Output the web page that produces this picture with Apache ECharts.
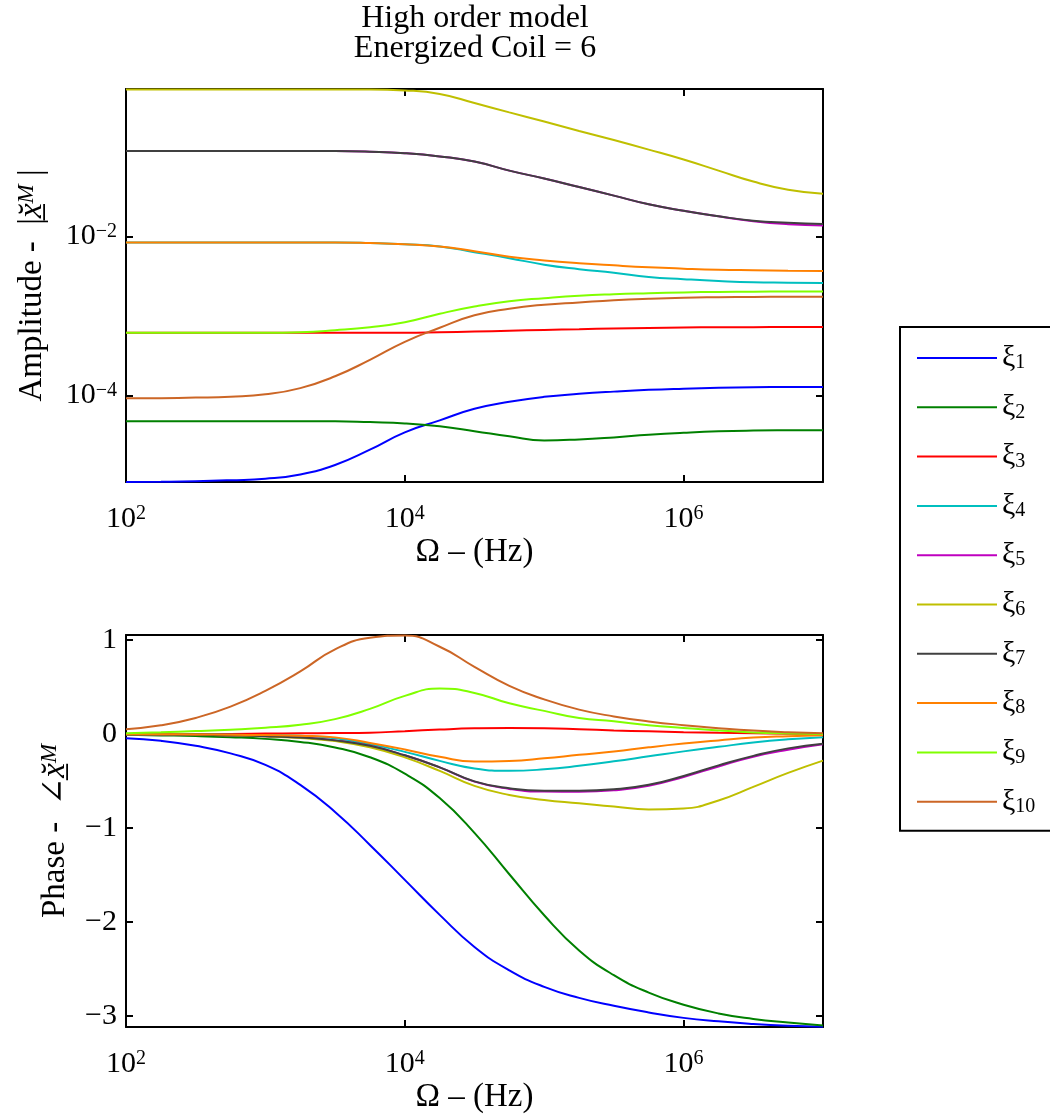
<!DOCTYPE html>
<html lang="en">
<head>
  <meta charset="UTF-8">
  <title>High order model</title>
  <script src="https://cdn.jsdelivr.net/npm/echarts@6/dist/echarts.min.js"></script>
  <style>
    * {
      margin: 0;
      padding: 0
    }

    html, body {
      width: 100%;
      height: 100%;
      background: #fff;
    }

    #main {
      width: 1050px;
      height: 1118px;
    }
  </style>
</head>
<body>
<div id="main"></div>
<script type="text/javascript">
  // frequency (Hz), sampled on a log grid
  var freq = [100, 178, 316, 562, 1000, 1780, 3160, 5620, 10000, 17800, 31600, 56200,
    100000, 178000, 316000, 562000, 1000000, 1780000, 3160000, 5620000, 10000000];

  // amplitude |x^M| per coil
  var amp1 = [8.21e-6, 8.26e-6, 8.38e-6, 8.63e-6, 9.0e-6, 1.02e-5, 1.343e-5, 2.09e-5, 3.45e-5, 4.88e-5, 6.81e-5,
    8.35e-5, 9.64e-5, 1.05e-4, 1.12e-4, 1.18e-4, 1.22e-4, 1.25e-4, 1.27e-4, 1.28e-4, 1.285e-4];
  var amp2 = [4.76e-5, 4.76e-5, 4.76e-5, 4.76e-5, 4.76e-5, 4.76e-5, 4.76e-5, 4.64e-5, 4.47e-5, 4.10e-5, 3.57e-5,
    3.07e-5, 2.73e-5, 2.81e-5, 2.98e-5, 3.21e-5, 3.40e-5, 3.55e-5, 3.63e-5, 3.66e-5, 3.67e-5];
  var amp3 = [6.15e-4, 6.15e-4, 6.15e-4, 6.15e-4, 6.15e-4, 6.15e-4, 6.15e-4, 6.15e-4, 6.15e-4, 6.24e-4, 6.37e-4,
    6.52e-4, 6.67e-4, 6.81e-4, 6.96e-4, 7.06e-4, 7.15e-4, 7.21e-4, 7.23e-4, 7.25e-4, 7.25e-4];
  var amp4 = [8.4e-3, 8.4e-3, 8.4e-3, 8.4e-3, 8.4e-3, 8.4e-3, 8.4e-3, 8.26e-3, 7.98e-3, 7.48e-3, 6.33e-3,
    5.32e-3, 4.41e-3, 3.87e-3, 3.49e-3, 3.09e-3, 2.90e-3, 2.75e-3, 2.65e-3, 2.62e-3, 2.59e-3];
  var amp5 = [0.118, 0.118, 0.118, 0.118, 0.118, 0.118, 0.118, 0.116, 0.111, 0.101, 0.0871,
    0.067, 0.0532, 0.0416, 0.0325, 0.0253, 0.021, 0.0179, 0.0155, 0.0142, 0.0137];
  var amp6 = [0.70, 0.70, 0.70, 0.70, 0.70, 0.70, 0.70, 0.70, 0.681, 0.615, 0.473,
    0.361, 0.277, 0.211, 0.162, 0.123, 0.0923, 0.067, 0.0488, 0.0386, 0.0344];
  var amp7 = [0.118, 0.118, 0.118, 0.118, 0.118, 0.118, 0.118, 0.116, 0.111, 0.101, 0.0871,
    0.067, 0.0532, 0.0416, 0.0325, 0.0253, 0.021, 0.0179, 0.0157, 0.0148, 0.0143];
  var amp8 = [8.4e-3, 8.4e-3, 8.4e-3, 8.4e-3, 8.4e-3, 8.4e-3, 8.4e-3, 8.26e-3, 7.98e-3, 7.48e-3, 6.51e-3,
    5.55e-3, 4.99e-3, 4.60e-3, 4.32e-3, 4.09e-3, 3.93e-3, 3.81e-3, 3.75e-3, 3.70e-3, 3.67e-3];
  var amp9 = [6.15e-4, 6.15e-4, 6.15e-4, 6.15e-4, 6.15e-4, 6.24e-4, 6.61e-4, 7.21e-4, 8.33e-4, 1.066e-3, 1.313e-3,
    1.531e-3, 1.671e-3, 1.795e-3, 1.875e-3, 1.93e-3, 1.977e-3, 2.004e-3, 2.015e-3, 2.026e-3, 2.03e-3];
  var amp10 = [9.22e-5, 9.27e-5, 9.42e-5, 9.69e-5, 1.036e-4, 1.24e-4, 1.745e-4, 2.81e-4, 4.73e-4, 7.11e-4, 1.02e-3,
    1.233e-3, 1.384e-3, 1.479e-3, 1.575e-3, 1.645e-3, 1.694e-3, 1.718e-3, 1.734e-3, 1.742e-3, 1.742e-3];

  // phase (rad) per coil
  var phase1 = [-0.043, -0.071, -0.124, -0.204, -0.327, -0.539, -0.827, -1.178, -1.550, -1.922, -2.263,
    -2.513, -2.688, -2.805, -2.890, -2.960, -3.018, -3.055, -3.082, -3.101, -3.112];
  var phase2 = [-0.007, -0.013, -0.020, -0.032, -0.050, -0.082, -0.141, -0.245, -0.420, -0.680, -1.050,
    -1.490, -1.926, -2.300, -2.564, -2.749, -2.878, -2.971, -3.029, -3.068, -3.100];
  var phase3 = [0.003, 0.003, 0.003, 0.003, 0.006, 0.009, 0.012, 0.016, 0.032, 0.049, 0.062,
    0.067, 0.064, 0.053, 0.040, 0.030, 0.021, 0.014, 0.009, 0.004, 0.001];
  var phase4 = [0, -0.001, -0.003, -0.006, -0.010, -0.018, -0.043, -0.106, -0.188, -0.284, -0.364,
    -0.390, -0.374, -0.337, -0.289, -0.236, -0.183, -0.135, -0.089, -0.055, -0.032];
  var phase5 = [-0.002, -0.004, -0.007, -0.013, -0.021, -0.036, -0.066, -0.124, -0.225, -0.353, -0.505,
    -0.582, -0.611, -0.612, -0.597, -0.549, -0.455, -0.343, -0.240, -0.166, -0.108];
  var phase6 = [-0.002, -0.004, -0.007, -0.014, -0.023, -0.041, -0.074, -0.140, -0.247, -0.391, -0.550,
    -0.646, -0.699, -0.734, -0.770, -0.800, -0.790, -0.705, -0.561, -0.412, -0.281];
  var phase7 = [-0.002, -0.004, -0.007, -0.013, -0.021, -0.036, -0.066, -0.124, -0.225, -0.353, -0.502,
    -0.576, -0.603, -0.603, -0.587, -0.539, -0.444, -0.332, -0.231, -0.151, -0.103];
  var phase8 = [0, -0.001, -0.003, -0.006, -0.010, -0.016, -0.034, -0.093, -0.162, -0.241, -0.292,
    -0.285, -0.257, -0.220, -0.185, -0.140, -0.100, -0.066, -0.036, -0.021, -0.011];
  var phase9 = [0.011, 0.020, 0.033, 0.048, 0.068, 0.100, 0.160, 0.269, 0.407, 0.487, 0.439,
    0.328, 0.248, 0.172, 0.138, 0.095, 0.066, 0.040, 0.019, 0.008, 0.002];
  var phase10 = [0.053, 0.094, 0.173, 0.293, 0.461, 0.668, 0.902, 1.025, 1.050, 0.930, 0.716,
    0.514, 0.370, 0.261, 0.189, 0.136, 0.096, 0.064, 0.038, 0.021, 0.010];

  var names = ['ξ1', 'ξ2', 'ξ3', 'ξ4', 'ξ5', 'ξ6', 'ξ7', 'ξ8', 'ξ9', 'ξ10'];
  var colors = ['#0000ff', '#008000', '#ff0000', '#00bfbf', '#bf00bf', '#bfbf00', '#404040', '#ff8000', '#80ff00', '#cc6626'];
  var amps = [amp1, amp2, amp3, amp4, amp5, amp6, amp7, amp8, amp9, amp10];
  var phases = [phase1, phase2, phase3, phase4, phase5, phase6, phase7, phase8, phase9, phase10];

  var FONT = "'Liberation Serif', 'DejaVu Serif', serif";

  // 10^n labels, only on even decades like matlab
  function powLabel(v) {
    var e = Math.log10(v);
    var r = Math.round(e);
    if (Math.abs(e - r) > 1e-6 || r % 2 !== 0) return '';
    return '{b|10}{sup|' + (r < 0 ? '\u2212' : '') + Math.abs(r) + '}';
  }

  function phaseLabel(v) {
    if (Math.abs(v - Math.round(v)) > 1e-6) return '';
    v = Math.round(v);
    return v < 0 ? '\u2212' + Math.abs(v) : String(v);
  }

  var supRich = {
    b: {fontFamily: FONT, fontSize: 30, lineHeight: 30, color: '#000'},
    sup: {fontFamily: FONT, fontSize: 20, lineHeight: 4, verticalAlign: 'top', color: '#000'}
  };
  var nameRich = {
    it: {fontFamily: FONT, fontSize: 33, lineHeight: 34, fontStyle: 'italic', color: '#000'},
    sup: {fontFamily: FONT, fontSize: 23, lineHeight: 4, verticalAlign: 'top', fontStyle: 'italic', color: '#000'}
  };

  var lineBlack = {show: true, onZero: false, lineStyle: {color: '#000', width: 2}};
  var tickIn = {show: true, inside: true, length: 7, lineStyle: {color: '#000', width: 2}};

  function freqAxis(grid, pos, withLabels) {
    var ax = {
      type: 'log', logBase: 100, gridIndex: grid, position: pos, min: 100, max: 10000000,
      axisLine: lineBlack, axisTick: tickIn, splitLine: {show: false},
      axisLabel: {show: false}
    };
    if (withLabels) {
      ax.axisLabel = {show: true, margin: 22, formatter: powLabel, rich: supRich};
      ax.name = 'Ω \u2013 (Hz)';
      ax.nameLocation = 'middle';
      ax.nameGap = 51;
      ax.nameTextStyle = {fontFamily: FONT, fontSize: 33, lineHeight: 34, color: '#000'};
    }
    return ax;
  }

  var myChart = echarts.init(document.getElementById('main'), null, {renderer: 'canvas'});

  var series = [];
  for (var k = 0; k < names.length; k++) {
    var ampData = [], phData = [];
    for (var i = 0; i < freq.length; i++) {
      ampData.push([freq[i], amps[k][i]]);
      phData.push([freq[i], phases[k][i]]);
    }
    series.push({
      name: names[k], type: 'line', xAxisIndex: 0, yAxisIndex: 0, data: ampData,
      symbol: 'none', smooth: 0.5, lineStyle: {color: colors[k], width: 2}, itemStyle: {color: colors[k]}
    });
    series.push({
      name: names[k], type: 'line', xAxisIndex: 2, yAxisIndex: 2, data: phData,
      symbol: 'none', smooth: 0.5, lineStyle: {color: colors[k], width: 2}, itemStyle: {color: colors[k]}
    });
  }

  myChart.setOption({
    animation: false,
    backgroundColor: '#fff',
    title: {
      text: 'High order model\nEnergized Coil = 6',
      left: 475,
      top: 4,
      padding: 0,
      textAlign: 'center',
      textStyle: {fontFamily: FONT, fontSize: 32, fontWeight: 'normal', lineHeight: 30, color: '#000'}
    },
    legend: {
      data: names,
      orient: 'vertical',
      left: 900,
      top: 327,
      padding: [16, 70, 14, 17],
      borderColor: '#000',
      borderWidth: 2,
      icon: 'rect',
      itemWidth: 80,
      itemHeight: 2,
      itemGap: 19.3,
      selectedMode: false,
      formatter: function (name) {
        return '{x|ξ}{s|' + name.slice(1) + '}';
      },
      textStyle: {
        fontFamily: FONT, fontSize: 30, lineHeight: 30, color: '#000',
        rich: {
          x: {fontFamily: FONT, fontSize: 30, lineHeight: 30, color: '#000'},
          s: {fontFamily: FONT, fontSize: 20, lineHeight: 6, verticalAlign: 'bottom', color: '#000'}
        }
      }
    },
    grid: [
      {left: 126, top: 89, width: 697, height: 393},
      {left: 126, top: 635, width: 697, height: 392}
    ],
    xAxis: [
      freqAxis(0, 'bottom', true),
      freqAxis(0, 'top', false),
      freqAxis(1, 'bottom', true),
      freqAxis(1, 'top', false)
    ],
    yAxis: [
      {
        type: 'log', logBase: 100, gridIndex: 0, position: 'left', min: 8.2e-6, max: 0.71,
        axisLine: lineBlack, axisTick: tickIn, splitLine: {show: false},
        axisLabel: {margin: 9, formatter: powLabel, rich: supRich},
        name: 'Amplitude -  |{it|x\u0306\u0332}{sup|M} |',
        nameLocation: 'middle', nameRotate: 90, nameGap: 77,
        nameTextStyle: {fontFamily: FONT, fontSize: 33, lineHeight: 34, color: '#000', rich: nameRich}
      },
      {
        type: 'log', logBase: 100, gridIndex: 0, position: 'right', min: 8.2e-6, max: 0.71,
        axisLine: lineBlack, axisTick: tickIn, splitLine: {show: false}, axisLabel: {show: false}
      },
      {
        type: 'value', gridIndex: 1, position: 'left', min: -3.115, max: 1.055,
        axisLine: lineBlack, axisTick: tickIn, splitLine: {show: false},
        axisLabel: {margin: 9, formatter: phaseLabel, fontFamily: FONT, fontSize: 30, color: '#000'},
        name: 'Phase -  \u2220{it|x\u0306\u0332}{sup|M}',
        nameLocation: 'middle', nameRotate: 90, nameGap: 54,
        nameTextStyle: {fontFamily: FONT, fontSize: 33, lineHeight: 34, color: '#000', rich: nameRich}
      },
      {
        type: 'value', gridIndex: 1, position: 'right', min: -3.115, max: 1.055,
        axisLine: lineBlack, axisTick: tickIn, splitLine: {show: false}, axisLabel: {show: false}
      }
    ],
    series: series
  });
</script>
</body>
</html>
